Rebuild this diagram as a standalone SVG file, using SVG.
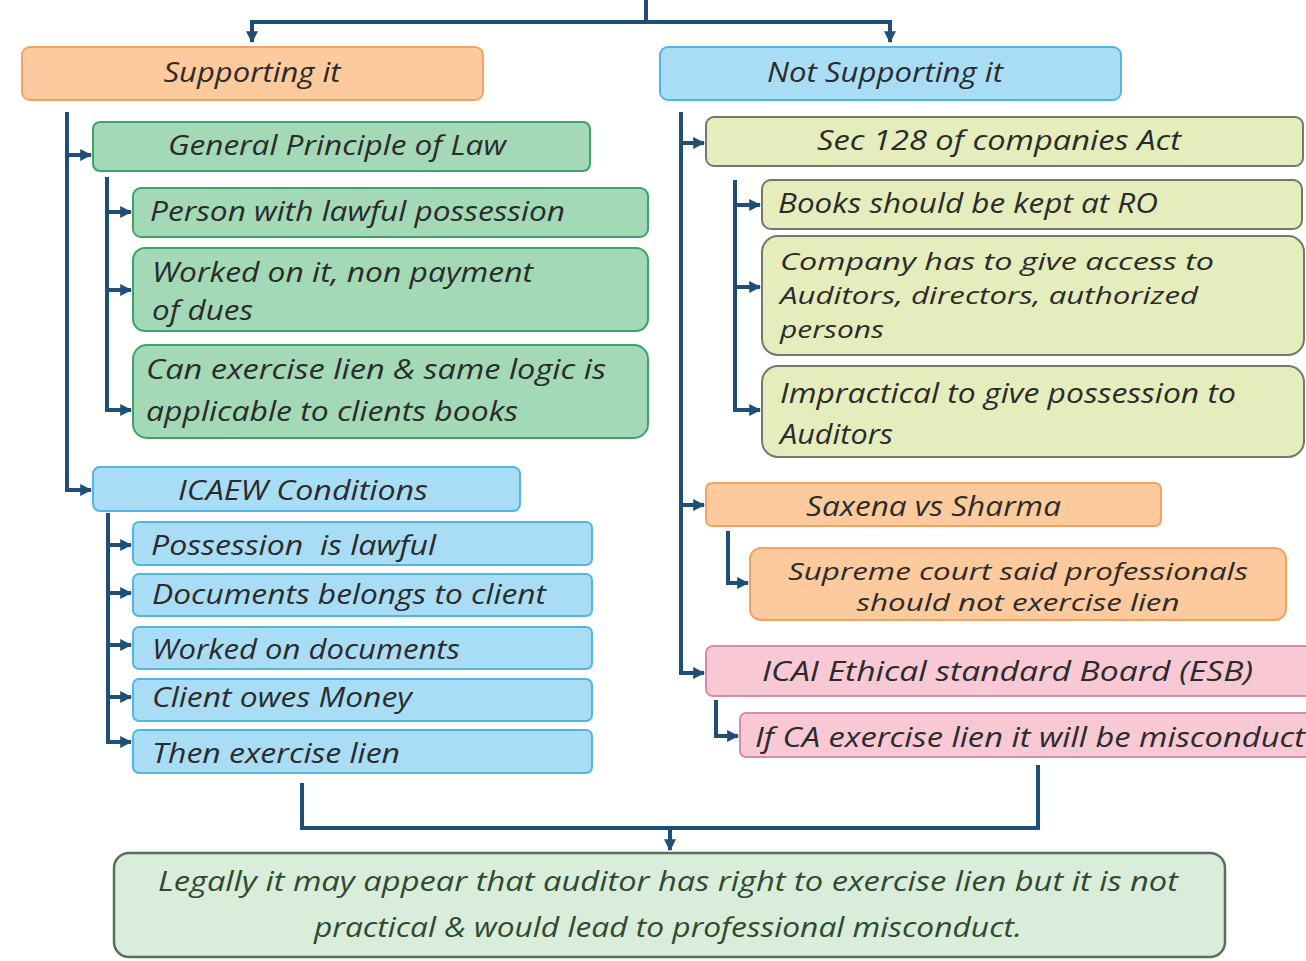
<svg xmlns="http://www.w3.org/2000/svg" width="1306" height="961" viewBox="0 0 1306 961">
  <defs>
    <marker id="arr" viewBox="0 0 10 10" refX="9" refY="5" markerWidth="3" markerHeight="3" orient="auto" markerUnits="strokeWidth">
      <path d="M0,0 L10,5 L0,10 z" fill="#1f4e79"/>
    </marker>
    <style>
      .bg{fill:#ffffff}
      .link{fill:none;stroke:#1f4e79;stroke-width:4}
      .arrow{fill:none;stroke:#1f4e79;stroke-width:4;marker-end:url(#arr)}
      .orange{fill:#fcca9c;stroke:#f2a263;stroke-width:2}
      .blue{fill:#a9ddf6;stroke:#52b6e4;stroke-width:2}
      .green{fill:#a3d9b6;stroke:#3da367;stroke-width:2}
      .olive{fill:#e6edbd;stroke:#76766a;stroke-width:2}
      .pink{fill:#f8c8d5;stroke:#d88aab;stroke-width:2}
      .final{fill:#d9edda;stroke:#56705b;stroke-width:2.5}
      text{font-family:"Open Sans","Liberation Sans",sans-serif;font-style:italic;font-size:27px;fill:#2b2b2b}
      .tight{font-size:23px}
      .c{text-anchor:middle}
      .fin{fill:#2f4a30}
    </style>
  </defs>

  <rect class="bg" x="0" y="0" width="1306" height="961"/>

  <!-- connectors -->
  <g id="connectors">
    <path class="link" d="M646,0 V22 M252,22 H890"/>
    <path class="arrow" d="M252,20 V42"/>
    <path class="arrow" d="M890,20 V42"/>

    <!-- left trunk -->
    <path class="link" d="M67,112 V490"/>
    <path class="arrow" d="M65,155 H91"/>
    <path class="arrow" d="M65,490 H91"/>

    <path class="link" d="M107,177 V410"/>
    <path class="arrow" d="M105,212 H131"/>
    <path class="arrow" d="M105,290 H131"/>
    <path class="arrow" d="M105,410 H131"/>

    <path class="link" d="M108,513 V742"/>
    <path class="arrow" d="M106,545 H131"/>
    <path class="arrow" d="M106,593 H131"/>
    <path class="arrow" d="M106,645 H131"/>
    <path class="arrow" d="M106,697 H131"/>
    <path class="arrow" d="M106,742 H131"/>

    <!-- right trunk -->
    <path class="link" d="M681,112 V673"/>
    <path class="arrow" d="M679,143 H704"/>
    <path class="arrow" d="M679,505 H704"/>
    <path class="arrow" d="M679,673 H704"/>

    <path class="link" d="M735,180 V410"/>
    <path class="arrow" d="M733,205 H760"/>
    <path class="arrow" d="M733,287 H760"/>
    <path class="arrow" d="M733,410 H760"/>

    <path class="arrow" d="M728,531 V583 H748"/>
    <path class="arrow" d="M716,700 V736 H738"/>

    <!-- merge to conclusion -->
    <path class="link" d="M302,783 V828 H1038 V765"/>
    <path class="arrow" d="M670,828 V850"/>
  </g>

  <!-- left branch -->
  <g id="supporting">
    <rect class="orange" x="22" y="47" width="461" height="53" rx="8"/>
    <text class="c" x="252" y="82" textLength="177" lengthAdjust="spacingAndGlyphs">Supporting it</text>
  </g>
  <g id="general-principle">
    <rect class="green" x="93" y="122" width="497" height="49" rx="7"/>
    <text x="168" y="155" textLength="338" lengthAdjust="spacingAndGlyphs">General Principle of Law</text>
  </g>
  <g id="lawful-possession">
    <rect class="green" x="133" y="188" width="515" height="49" rx="8"/>
    <text x="150" y="221" textLength="415" lengthAdjust="spacingAndGlyphs">Person with lawful possession</text>
  </g>
  <g id="worked-on-it">
    <rect class="green" x="133" y="248" width="515" height="83" rx="12"/>
    <text x="152" y="282" textLength="381" lengthAdjust="spacingAndGlyphs">Worked on it, non payment</text>
    <text x="152" y="320" textLength="101" lengthAdjust="spacingAndGlyphs">of dues</text>
  </g>
  <g id="can-exercise">
    <rect class="green" x="133" y="345" width="515" height="93" rx="14"/>
    <text x="146" y="379" textLength="460" lengthAdjust="spacingAndGlyphs">Can exercise lien &amp; same logic is</text>
    <text x="146" y="421" textLength="372" lengthAdjust="spacingAndGlyphs">applicable to clients books</text>
  </g>
  <g id="icaew">
    <rect class="blue" x="93" y="467" width="427" height="44" rx="7"/>
    <text x="178" y="500" textLength="250" lengthAdjust="spacingAndGlyphs">ICAEW Conditions</text>
  </g>
  <g id="possession-lawful">
    <rect class="blue" x="133" y="522" width="459" height="43" rx="6"/>
    <text x="151" y="555" textLength="285" lengthAdjust="spacingAndGlyphs" xml:space="preserve">Possession  is lawful</text>
  </g>
  <g id="documents-client">
    <rect class="blue" x="133" y="574" width="459" height="42" rx="6"/>
    <text x="152" y="604" textLength="394" lengthAdjust="spacingAndGlyphs">Documents belongs to client</text>
  </g>
  <g id="worked-documents">
    <rect class="blue" x="133" y="627" width="459" height="42" rx="6"/>
    <text x="152" y="659" textLength="308" lengthAdjust="spacingAndGlyphs">Worked on documents</text>
  </g>
  <g id="client-owes">
    <rect class="blue" x="133" y="679" width="459" height="42" rx="6"/>
    <text x="152" y="707" textLength="260" lengthAdjust="spacingAndGlyphs">Client owes Money</text>
  </g>
  <g id="then-exercise">
    <rect class="blue" x="133" y="730" width="459" height="43" rx="6"/>
    <text x="152" y="763" textLength="248" lengthAdjust="spacingAndGlyphs">Then exercise lien</text>
  </g>

  <!-- right branch -->
  <g id="not-supporting">
    <rect class="blue" x="660" y="47" width="461" height="53" rx="8"/>
    <text x="767" y="82" textLength="236" lengthAdjust="spacingAndGlyphs">Not Supporting it</text>
  </g>
  <g id="sec-128">
    <rect class="olive" x="706" y="117" width="597" height="49" rx="8"/>
    <text x="817" y="150" textLength="364" lengthAdjust="spacingAndGlyphs">Sec 128 of companies Act</text>
  </g>
  <g id="books-ro">
    <rect class="olive" x="762" y="180" width="540" height="49" rx="9"/>
    <text x="778" y="213" textLength="380" lengthAdjust="spacingAndGlyphs">Books should be kept at RO</text>
  </g>
  <g id="give-access">
    <rect class="olive" x="762" y="236" width="542" height="119" rx="16"/>
    <text class="tight" x="780" y="270" textLength="434" lengthAdjust="spacingAndGlyphs">Company has to give access to</text>
    <text class="tight" x="780" y="304" textLength="418" lengthAdjust="spacingAndGlyphs">Auditors, directors, authorized</text>
    <text class="tight" x="780" y="338" textLength="104" lengthAdjust="spacingAndGlyphs">persons</text>
  </g>
  <g id="impractical">
    <rect class="olive" x="762" y="366" width="542" height="91" rx="16"/>
    <text x="780" y="403" textLength="456" lengthAdjust="spacingAndGlyphs">Impractical to give possession to</text>
    <text x="780" y="444" textLength="113" lengthAdjust="spacingAndGlyphs">Auditors</text>
  </g>
  <g id="saxena">
    <rect class="orange" x="706" y="483" width="455" height="43" rx="6"/>
    <text x="806" y="516" textLength="255" lengthAdjust="spacingAndGlyphs">Saxena vs Sharma</text>
  </g>
  <g id="supreme-court">
    <rect class="orange" x="750" y="548" width="536" height="72" rx="11"/>
    <text class="c tight" x="1018" y="580" textLength="460" lengthAdjust="spacingAndGlyphs">Supreme court said professionals</text>
    <text class="c tight" x="1018" y="611" textLength="323" lengthAdjust="spacingAndGlyphs">should not exercise lien</text>
  </g>
  <g id="icai-esb">
    <rect class="pink" x="706" y="646" width="620" height="50" rx="7"/>
    <text x="762" y="681" textLength="491" lengthAdjust="spacingAndGlyphs">ICAI Ethical standard Board (ESB)</text>
  </g>
  <g id="ca-misconduct">
    <rect class="pink" x="740" y="713" width="600" height="44" rx="6"/>
    <text x="755" y="747" textLength="550" lengthAdjust="spacingAndGlyphs">If CA exercise lien it will be misconduct</text>
  </g>

  <!-- conclusion -->
  <g id="conclusion">
    <rect class="final" x="114" y="853" width="1111" height="104" rx="15"/>
    <text class="c fin" x="668" y="891" textLength="1020" lengthAdjust="spacingAndGlyphs">Legally it may appear that auditor has right to exercise lien but it is not</text>
    <text class="c fin" x="668" y="937" textLength="708" lengthAdjust="spacingAndGlyphs">practical &amp; would lead to professional misconduct.</text>
  </g>
</svg>
